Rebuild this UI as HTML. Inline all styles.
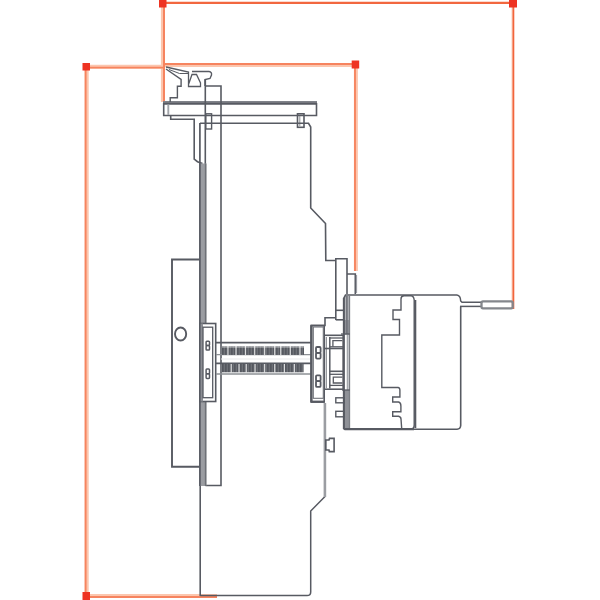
<!DOCTYPE html>
<html><head><meta charset="utf-8">
<style>
html,body{margin:0;padding:0;background:#fff;width:600px;height:600px;overflow:hidden;font-family:"Liberation Sans",sans-serif;}
svg{display:block}
</style></head>
<body>
<svg width="600" height="600" viewBox="0 0 600 600" style="filter:blur(0.35px)">
<defs>
  <pattern id="teeth" x="0" y="0" width="3" height="10" patternUnits="userSpaceOnUse">
    <rect x="0" y="0" width="3" height="10" fill="#55585f"/>
    <rect x="1.8" y="0" width="0.8" height="10" fill="#7c7f85"/>
  </pattern>
</defs>
<rect width="600" height="600" fill="#fff"/>
<!-- ORANGE dimension lines -->
<g fill="none" stroke-linecap="butt">
  <!-- light halos -->
  <g stroke="#fcc6ae" stroke-width="4">
    <line x1="162.9" y1="7" x2="162.9" y2="102"/>
    <line x1="355.9" y1="68" x2="355.9" y2="271"/>
    <line x1="86.7" y1="70" x2="86.7" y2="593"/>
    <line x1="90" y1="596" x2="217" y2="596"/>
    <line x1="90" y1="66.7" x2="163" y2="66.7"/>
    <line x1="163" y1="65" x2="352" y2="65"/>
  </g>
  <!-- cores -->
  <g stroke="#f6845f" stroke-width="1.9">
    <line x1="355" y1="68" x2="355" y2="271"/>
    <line x1="85.6" y1="70" x2="85.6" y2="593"/>
    <line x1="90" y1="597" x2="217" y2="597"/>
    <line x1="90" y1="67.6" x2="163" y2="67.6"/>
    <line x1="163" y1="64" x2="352" y2="64"/>
  </g>
  <line x1="164" y1="7" x2="164" y2="102" stroke="#f6845f" stroke-width="2"/>
  <polyline points="166,2.9 509,2.9" stroke="#f2673f" stroke-width="2.3"/>
  <line x1="512.3" y1="7" x2="512.3" y2="309" stroke="#f7b49a" stroke-width="1.2"/>
  <line x1="513.5" y1="7" x2="513.5" y2="309" stroke="#f2653c" stroke-width="1.6"/>
</g>
<g fill="#ee3322">
  <rect x="159" y="0" width="7.5" height="7.5"/>
  <rect x="509" y="0" width="8" height="7.5"/>
  <rect x="82.5" y="63" width="7.5" height="7.5"/>
  <rect x="351.7" y="60.5" width="7.5" height="8"/>
  <rect x="82.5" y="592" width="7.5" height="8"/>
</g>

<!-- GRAY drawing -->
<g fill="none" stroke="#575a62" stroke-width="1.6" stroke-linejoin="miter">
  <!-- top plate -->
  <line x1="163" y1="102" x2="317" y2="102" stroke-width="2" stroke="#80838a"/>
  <line x1="163" y1="103.8" x2="317" y2="103.8" stroke-width="2"/>
  <polyline points="163.7,103 163.7,115.5 316.5,115.5 316.5,103"/>
  <line x1="168.3" y1="104.5" x2="168.3" y2="115" stroke="#a2a5aa" stroke-width="1.9"/>
  <!-- lever on top -->
  <polyline points="166,67 188.5,72 188.5,86.5 200.5,86.5 200.5,83 196.5,74.5 192,74.5 188.5,84.5" stroke-width="1.3"/>
  <polyline points="166,69 181.1,79.4 181.1,86.3 177.4,86.3 177.4,97.8 170.2,97.8 170.2,102" stroke-width="1.4"/>
  <polyline points="169,69.5 179.5,73.5 188,73.5" stroke-width="1"/>
  <!-- T piece -->
  <path d="M192,71.5 L209,71.5 Q212,72 211.5,75 L210,78.5 L205,79.5 L205,86" stroke-width="1.4"/>
  <!-- tall rod lines -->
  <polyline points="205.3,86 221,86 221,485.5 205.5,485.5"/>
  <line x1="205.3" y1="79.5" x2="205.3" y2="486"/>
  <!-- brackets on plate -->
  <rect x="205.8" y="113.8" width="5.8" height="15.2" stroke-width="1.4"/>
  <rect x="297.5" y="113.8" width="6.5" height="13.5" stroke-width="1.6"/>
  <line x1="299.8" y1="116" x2="299.8" y2="126" stroke="#8a8d92" stroke-width="1"/>
  <!-- below plate left hook -->
  <path d="M170.7,115.5 L170.7,119.2 L194.2,119.2 L194.2,159 L197.5,161.7 L202.5,163.5"/>
  <polyline points="200,123.3 306,123.3" />
  <path d="M306,123.3 L308.5,123.3 L310.7,127 L310.7,208 L325.5,223.5 L325.8,260.5 L335.8,260.5"/>
  <!-- thick filled bar -->
  <rect x="199.3" y="163.5" width="7" height="322.5" fill="#9b9da2" stroke="none"/>
  <line x1="199.9" y1="123" x2="199.9" y2="486" stroke-width="1.7"/>
  <line x1="205.6" y1="163.5" x2="205.6" y2="486" stroke="#6e7177" stroke-width="1.5"/>
  <line x1="200.2" y1="486" x2="200.2" y2="596"/>
  <!-- bottom body -->
  <path d="M200.2,595.6 L307,595.6 Q310.7,595.6 310.7,592 L310.7,511 L325,496.5" stroke-width="1.5"/>
  <line x1="324.9" y1="403" x2="324.9" y2="497" stroke="#9b9da2" stroke-width="2.6"/>
  <path d="M325.8,440 L329,440 L329.5,438.4 L334.1,438.4 L334.1,451.6 L329.3,451.6 L329,450 L325.8,450 Z" stroke-width="1.6"/>
  <!-- left big frame -->
  <polyline points="199.5,259.5 172,259.5 172,466.8 199.5,466.8" stroke-width="1.9"/>
  <ellipse cx="180.6" cy="334" rx="5.6" ry="6.5" stroke-width="1.9"/>
  <!-- left bracket near springs -->
  <rect x="200" y="323.5" width="15.7" height="78" fill="#fff"/>
  <rect x="200" y="323.5" width="3" height="78" fill="#8c8e94" stroke="none"/>
  <line x1="199.8" y1="323" x2="199.8" y2="402" stroke-width="1.6"/>
  <rect x="203" y="327.2" width="9.7" height="70.5" fill="#fff" stroke-width="1.3"/>
  <g stroke-width="1.5">
    <rect x="206.1" y="341.2" width="3.4" height="4.4" rx="0.8"/>
    <rect x="206.1" y="345.6" width="3.4" height="4.4" rx="0.8"/>
    <rect x="206.1" y="369" width="3.4" height="4.7" rx="0.8"/>
    <rect x="206.1" y="373.7" width="3.4" height="4.7" rx="0.8"/>
  </g>
  <!-- spring lines -->
  <line x1="216" y1="342.6" x2="311" y2="342.6"/>
  <line x1="216" y1="354.7" x2="311" y2="354.7" stroke="#8d9095" stroke-width="1.3"/>
  <line x1="221" y1="359" x2="311" y2="359" stroke="#e6e7e9" stroke-width="1"/>
  <line x1="216" y1="363.4" x2="311" y2="363.4"/>
  <line x1="216" y1="374" x2="311" y2="374" stroke="#8d9095" stroke-width="1.3"/>
  <!-- coupler plate -->
  <rect x="311" y="325.5" width="13.2" height="76.5"/>
  <rect x="313.3" y="327" width="10" height="71.3" stroke-width="1.1" stroke="#70737a"/>
  <line x1="311.5" y1="325.5" x2="311.5" y2="402" stroke-width="2.2"/>
  <line x1="311" y1="401.7" x2="324.2" y2="401.7" stroke-width="2.2"/>
  <g stroke-width="1.8">
    <rect x="316" y="347" width="4.6" height="5.8" rx="1"/>
    <rect x="316" y="352.8" width="4.6" height="5.8" rx="1"/>
    <rect x="316" y="375.3" width="4.6" height="5.8" rx="1"/>
    <rect x="316" y="381.1" width="4.6" height="5.8" rx="1"/>
  </g>
  <polyline points="311,325.5 325,325.5 325,317.7 335.8,317.7"/>
  <!-- coupler right structure -->
  <line x1="324.8" y1="335.3" x2="343.3" y2="335.3"/>
  <line x1="343.2" y1="335" x2="343.2" y2="390"/>
  <line x1="324.8" y1="389.2" x2="343.3" y2="389.2"/>
  <line x1="326.3" y1="337" x2="326.3" y2="388" stroke="#8f9297" stroke-width="1.3"/>
  <line x1="329.8" y1="337" x2="329.8" y2="388.5" stroke-width="1.5"/>
  <line x1="324.8" y1="348.5" x2="343.3" y2="348.5"/>
  <line x1="329.8" y1="371.3" x2="343.3" y2="371.3"/>
  <g stroke-width="1.3">
    <polyline points="329.8,338 343,338"/>
    <polyline points="329.8,346.8 343,346.8"/>
    <polyline points="342.4,340.7 332.9,340.7 332.9,346.8"/>
    <polyline points="329.8,374.3 343,374.3"/>
    <polyline points="329.8,385.4 343,385.4"/>
    <polyline points="342.4,377.1 333.3,377.1 333.3,383 342.4,383"/>
  </g>
  <!-- rect above motor -->
  <polyline points="335.8,310.3 343.5,310.3"/>
  <line x1="335.8" y1="319.8" x2="346" y2="319.8"/>
  <polyline points="335.8,320 335.8,258.8 347,258.8 347,294"/>
  <polyline points="347,274 355.3,274 355.3,294"/>
  <line x1="356.5" y1="275" x2="356.5" y2="293" stroke="#9a9ca2" stroke-width="1.2"/>
  <!-- motor -->
  <rect x="344" y="296" width="5.8" height="24" fill="#b4b6ba" stroke="none"/>
  <rect x="344" y="320" width="5.8" height="14.5" fill="#8f9197" stroke="none"/>
  <rect x="344" y="390" width="5.8" height="39" fill="#8f9197" stroke="none"/>
  <path d="M460.7,306.4 L460.7,425.5 Q460.5,429 457,429.2 L344.3,429.2 L343.8,428 L343.8,298.3 L345.5,295 L457,295" stroke-width="1.6"/>
  <line x1="343.8" y1="298" x2="343.8" y2="429" stroke-width="1.9"/>
  <line x1="346.9" y1="296" x2="346.9" y2="334" stroke="#6f7279" stroke-width="1.6"/>
  <line x1="347.6" y1="334" x2="347.6" y2="390" stroke="#a4a7ac" stroke-width="1.8"/>
  <line x1="349.5" y1="295.5" x2="349.5" y2="429" stroke="#7c7f85" stroke-width="1.3"/>
  <line x1="341" y1="334" x2="349.8" y2="334" stroke-width="1.3"/>
  <line x1="342" y1="390" x2="349.8" y2="390" stroke-width="1.3"/>
  <line x1="344.5" y1="429.2" x2="414" y2="429.2" stroke-width="2.2"/>
  <rect x="335.8" y="397.8" width="8.3" height="5" stroke-width="1.4"/>
  <rect x="335.8" y="411.3" width="8.3" height="5.5" stroke-width="1.4"/>
  <!-- motor divider -->
  <path d="M401,299 Q401,295.8 404,295.8 L411,295.8 Q413.7,296 414.2,300 L414.2,425 Q414,429 411,429" stroke-width="1.4"/>
  <line x1="415.3" y1="300" x2="415.3" y2="428" stroke-width="2"/>
  <!-- inner profile -->
  <path d="M401,299 L401,310 L393,310 L393,319.5 L399.5,319.5 L399.5,335 L381.8,335 L381.8,387.5 L398,387.5 Q399.9,387.7 399.9,390 L399.9,397 L392.7,397 L392.7,402 L398.5,402 Q400.9,402.5 400.9,406 L400.9,411.8 L392.7,411.8 L392.7,416.3 L398.5,416.3 Q400.9,416.8 401,419 L401.7,428.5" stroke-width="1.4"/>
  <!-- shaft -->
  <path d="M457,295 Q460.5,295.5 460.7,301 L462,302.3 L481.5,302.3" stroke-width="1.5"/>
  <line x1="460" y1="306.4" x2="481.5" y2="306.4" stroke-width="1.5"/>
  <rect x="481.5" y="301.4" width="31.2" height="6.9" rx="1.5" stroke="#84878c" stroke-width="2.3"/>
</g>
<!-- spring teeth -->
<g>
  <rect x="222" y="346.3" width="82" height="8.6" fill="url(#teeth)"/>
  <rect x="222" y="363.9" width="81.6" height="8.4" fill="url(#teeth)"/>
  <rect x="222" y="346.3" width="82" height="1.6" fill="#ffffff" opacity="0.35"/>
  <g stroke="#ffffff" stroke-width="1.2" opacity="0.75">
    <line x1="228" y1="346" x2="228" y2="355"/>
    <line x1="236" y1="346" x2="236" y2="355"/>
    <line x1="245.5" y1="346" x2="245.5" y2="355"/>
    <line x1="254.7" y1="346" x2="254.7" y2="355"/>
    <line x1="264.6" y1="346" x2="264.6" y2="355"/>
    <line x1="274.7" y1="346" x2="274.7" y2="355"/>
    <line x1="280.7" y1="346" x2="280.7" y2="355"/>
    <line x1="290.3" y1="346" x2="290.3" y2="355"/>
    <line x1="300" y1="346" x2="300" y2="355"/>
    <line x1="231.3" y1="364" x2="231.3" y2="372.5"/>
    <line x1="239" y1="364" x2="239" y2="372.5"/>
    <line x1="246.3" y1="364" x2="246.3" y2="372.5"/>
    <line x1="255.1" y1="364" x2="255.1" y2="372.5"/>
    <line x1="264.6" y1="364" x2="264.6" y2="372.5"/>
    <line x1="274.7" y1="364" x2="274.7" y2="372.5"/>
    <line x1="284.4" y1="364" x2="284.4" y2="372.5"/>
    <line x1="294.4" y1="364" x2="294.4" y2="372.5"/>
  </g>
</g>
</svg>
</body></html>
